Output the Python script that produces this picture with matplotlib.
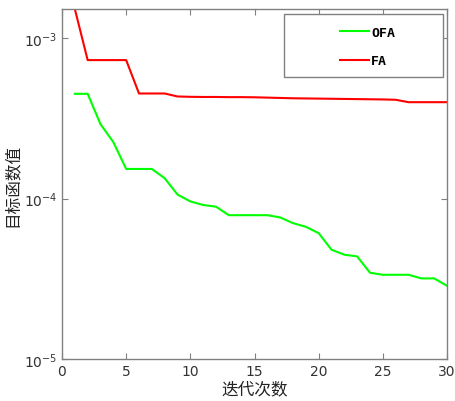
import numpy as np
import matplotlib
matplotlib.use("Agg")
import matplotlib.pyplot as plt
from matplotlib.patches import Rectangle
from matplotlib.ticker import LogLocator, NullLocator, FixedLocator

plt.rcParams['font.family'] = ['DejaVu Sans', 'Noto Sans CJK SC']

# iterations and objective values
iters = np.arange(1, 31)
ofa = [4.5e-4, 4.5e-4, 2.91e-4, 2.25e-4, 1.53e-4, 1.53e-4, 1.53e-4, 1.34e-4, 1.06e-4, 9.6e-5,
       9.12e-5, 8.9e-5, 7.88e-5, 7.88e-5, 7.88e-5, 7.88e-5, 7.63e-5, 7.03e-5, 6.67e-5, 6.09e-5,
       4.8e-5, 4.47e-5, 4.36e-5, 3.45e-5, 3.35e-5, 3.35e-5, 3.35e-5, 3.18e-5, 3.18e-5, 2.86e-5]
fa = [1.52e-3, 7.3e-4, 7.3e-4, 7.3e-4, 7.3e-4, 4.52e-4, 4.52e-4, 4.52e-4, 4.33e-4, 4.31e-4,
      4.30e-4, 4.30e-4, 4.29e-4, 4.29e-4, 4.28e-4, 4.26e-4, 4.24e-4, 4.22e-4, 4.21e-4, 4.20e-4,
      4.19e-4, 4.18e-4, 4.17e-4, 4.16e-4, 4.15e-4, 4.13e-4, 3.99e-4, 3.99e-4, 3.99e-4, 3.99e-4]

fig = plt.figure(figsize=(4.55, 4.02), dpi=100)
ax = fig.add_axes([62 / 455, 42 / 402, 385 / 455, 350 / 402])

ax.plot(iters, ofa, color='#00ff00', lw=1.5, label='OFA')
ax.plot(iters, fa, color='#ff0000', lw=1.5, label='FA')

ax.set_yscale('log')
ax.set_xlim(0, 30)
ax.set_ylim(1e-5, 1.52e-3)
ax.xaxis.set_major_locator(FixedLocator([0, 5, 10, 15, 20, 25, 30]))
ax.yaxis.set_major_locator(LogLocator(base=10, numticks=10))
ax.yaxis.set_minor_locator(NullLocator())

gray = '#808080'
for s in ax.spines.values():
    s.set_color(gray)
    s.set_linewidth(1.0)
ax.tick_params(direction='in', length=4, width=0.8, color=gray, labelcolor='#333333',
               labelsize=10, top=True, right=True)
ax.tick_params(axis='y', which='minor', left=False, right=False)

ax.set_xlabel('迭代次数', family=['Noto Sans CJK SC'], fontsize=12, color='#222222', labelpad=2)
ax.set_ylabel('目标函数值', family=['Noto Sans CJK SC'], fontsize=12, color='#222222', labelpad=2)

# legend box drawn separately, MATLAB style (wide box, entries centred)
box = Rectangle((0.577, 0.806), 0.413, 0.18, transform=ax.transAxes, facecolor='white',
                edgecolor=gray, lw=1.0, zorder=4)
ax.add_patch(box)
leg = ax.legend(loc='center', bbox_to_anchor=(0.577 + 0.413 / 2 + 0.01, 0.893), frameon=False,
                handlelength=2.2, handletextpad=0.2, labelspacing=1.2,
                prop={'family': 'DejaVu Sans Mono', 'size': 9.5, 'weight': 'bold'})
leg.set_zorder(5)

fig.savefig('out.png', dpi=100)
